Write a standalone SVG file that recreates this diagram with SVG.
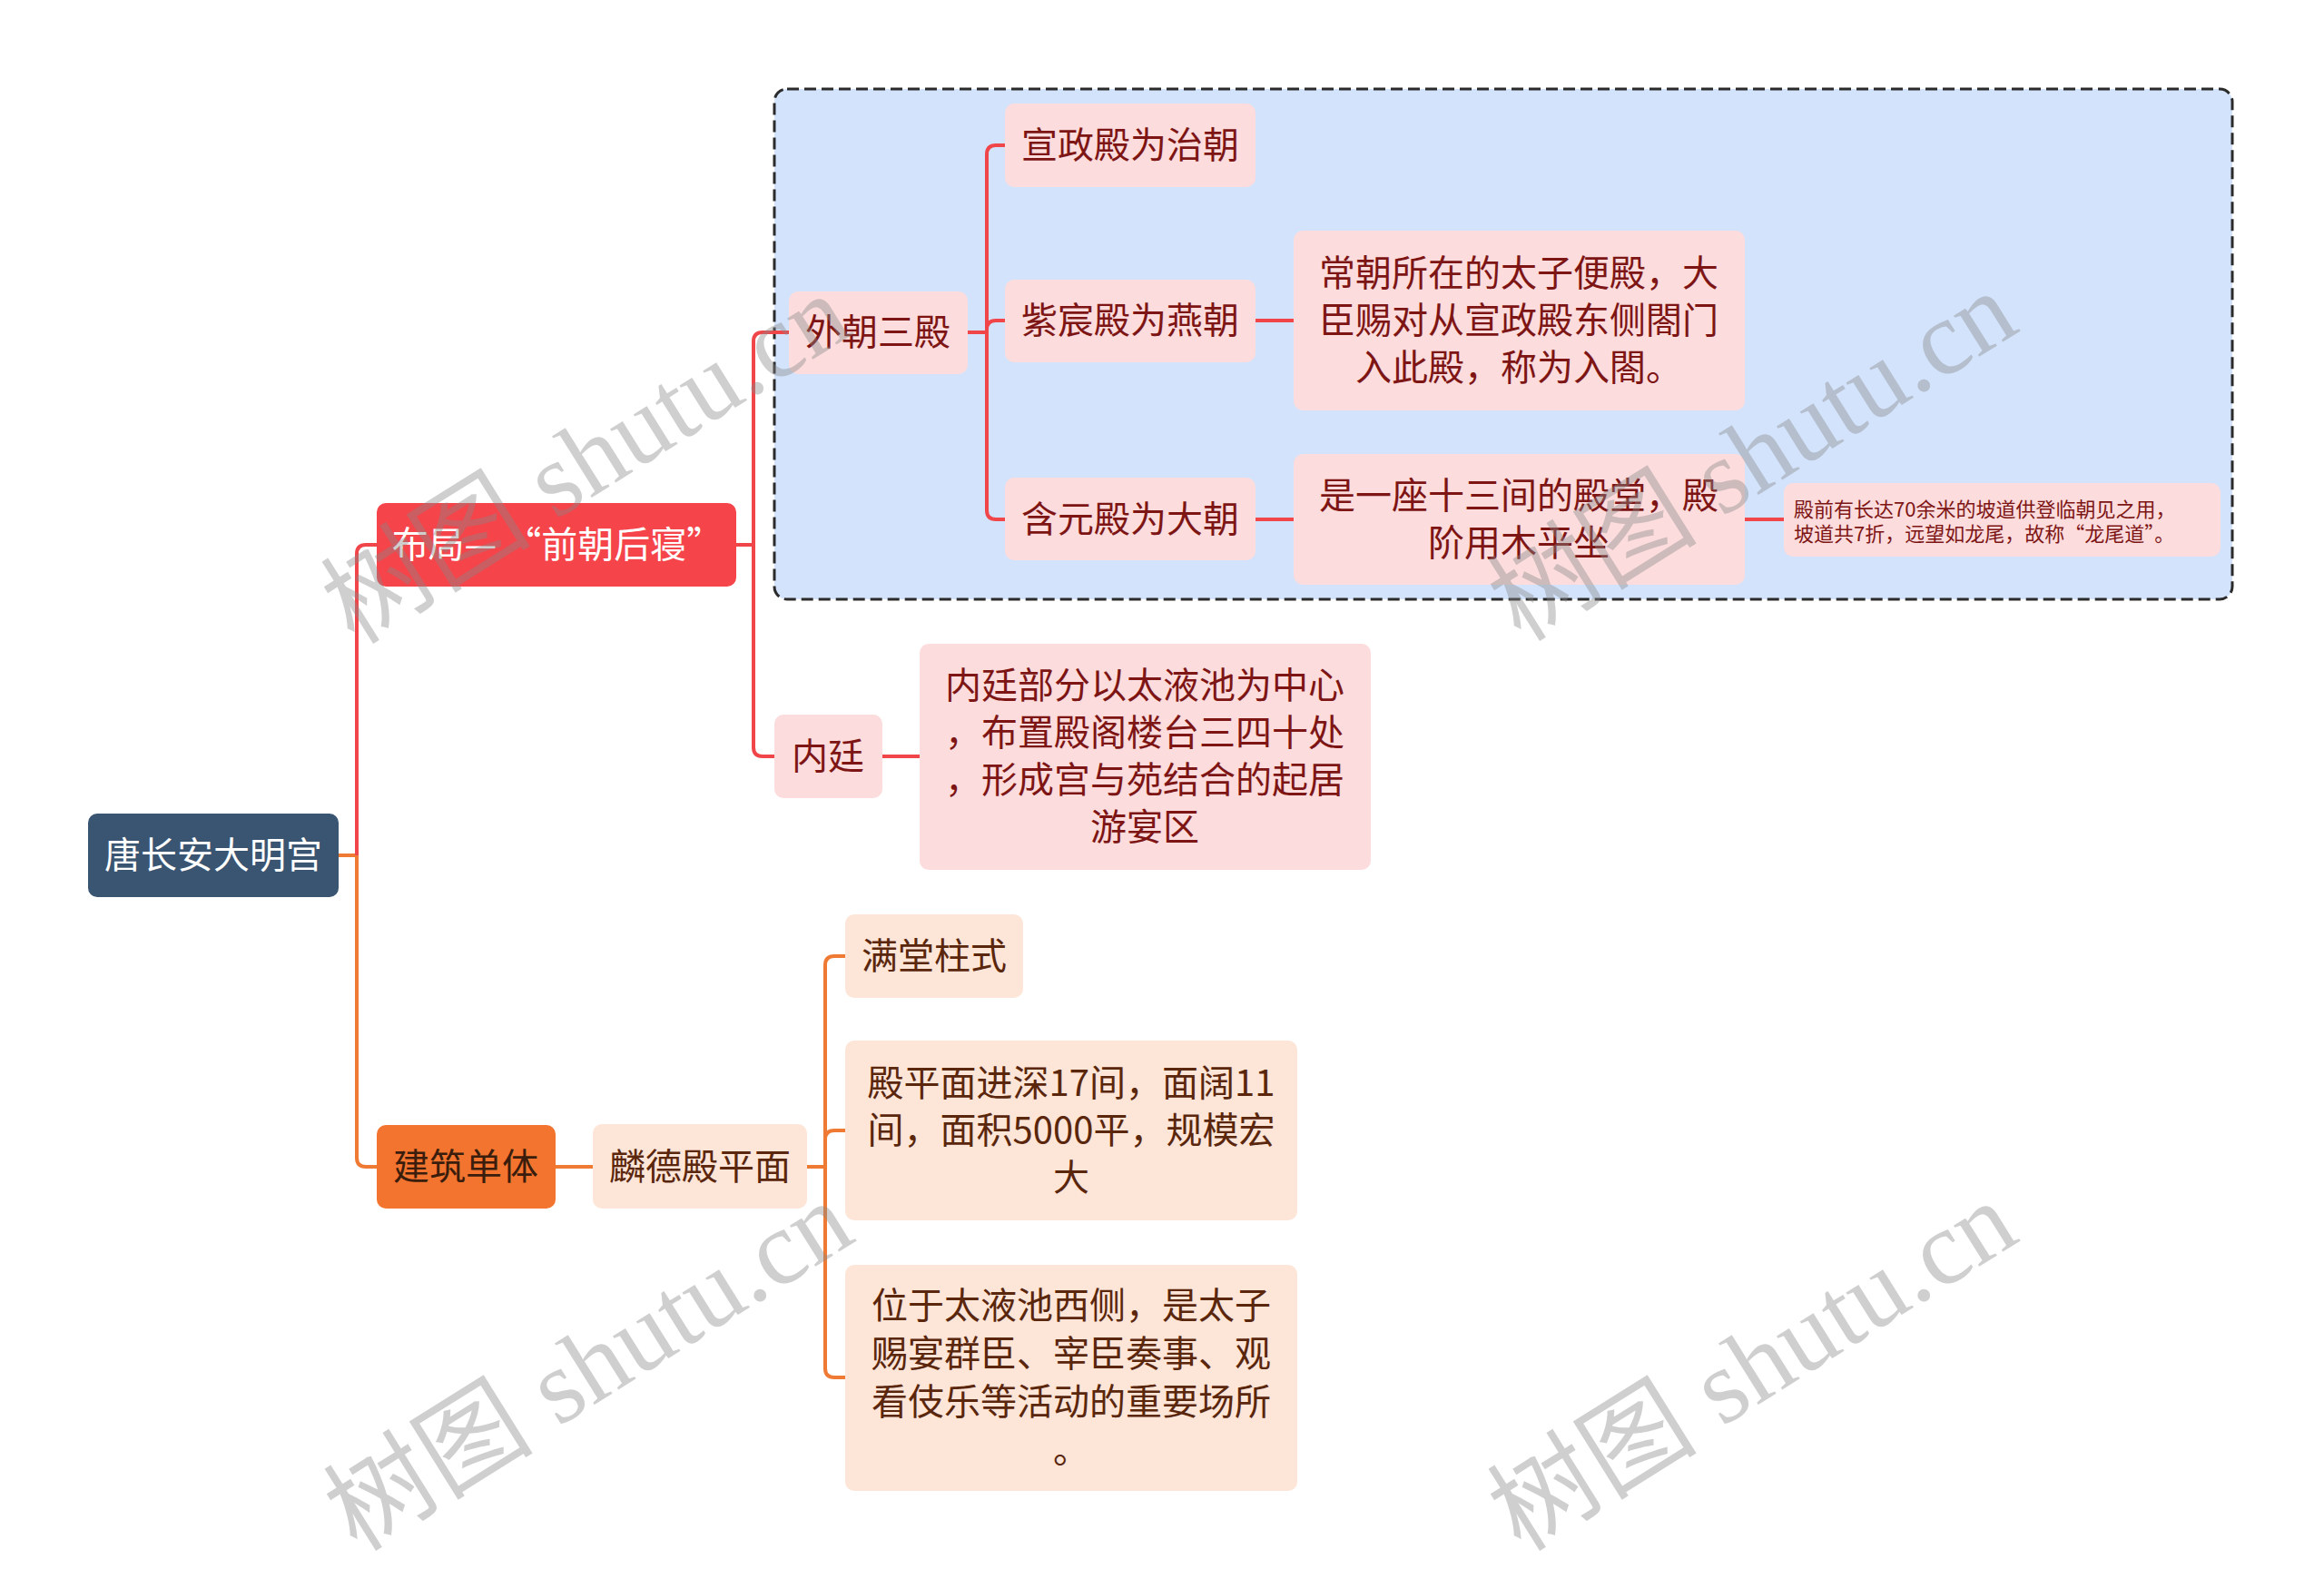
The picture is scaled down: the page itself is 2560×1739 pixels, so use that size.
<svg xmlns="http://www.w3.org/2000/svg" width="2560" height="1739" viewBox="0 0 2560 1739">
<style>
text{font-family:"Noto Sans CJK SC","Noto Sans",sans-serif;font-size:40px;text-anchor:middle}
.red{stroke:#f0464a;stroke-width:4;fill:none}
.org{stroke:#ef7a33;stroke-width:4;fill:none}
.pk{fill:#fcdcdc}
.pe{fill:#fde5d8}
.tr{fill:#7e1515}
.tb{fill:#5a260c}
.wm{font-family:"Liberation Serif","Noto Sans CJK SC",serif;font-size:116px;fill:#888;opacity:0.4}
</style>
<rect width="2560" height="1739" fill="#ffffff"/>
<rect id="boundary" x="853" y="98" width="1606" height="562" rx="14" fill="#d3e3fc" stroke="#2b2b2b" stroke-width="3" stroke-dasharray="13 6"/>
<g id="connectors">
<path class="org" d="M373 942 H393 V1275 Q393 1285 403 1285 H415"/>
<path class="red" d="M393 942 V610 Q393 600 403 600 H415"/>
<path class="red" d="M811 600 H830 V376 Q830 366 840 366 H869"/>
<path class="red" d="M811 600 H830 V823 Q830 833 840 833 H853"/>
<path class="red" d="M1066 366 H1087 V170 Q1087 160 1097 160 H1107"/>
<path class="red" d="M1066 366 H1087 V363 Q1087 353 1097 353 H1107"/>
<path class="red" d="M1066 366 H1087 V562 Q1087 572 1097 572 H1107"/>
<path class="red" d="M1383 353 H1425"/>
<path class="red" d="M1383 572 H1425"/>
<path class="red" d="M1922 572 H1965"/>
<path class="red" d="M972 833 H1013"/>
<path class="org" d="M612 1285 H653"/>
<path class="org" d="M889 1285 H909 V1063 Q909 1053 919 1053 H931"/>
<path class="org" d="M889 1285 H909 V1255 Q909 1245 919 1245 H931"/>
<path class="org" d="M889 1285 H909 V1507 Q909 1517 919 1517 H931"/>
</g>
<g id="root"><rect x="97" y="896" width="276" height="92" rx="10" fill="#3a5572"/><text x="235" y="956" fill="#ffffff">唐长安大明宫</text></g>
<g id="layout"><rect x="415" y="554" width="396" height="92" rx="10" fill="#f5444a"/><text x="614" y="614" fill="#ffffff">布局— “前朝后寝”</text></g>
<g id="building"><rect x="415" y="1239" width="197" height="92" rx="10" fill="#f2742f"/><text x="513" y="1299" fill="#3a1d0c">建筑单体</text></g>
<g id="waichao"><rect class="pk" x="869" y="321" width="197" height="91" rx="10"/><text class="tr" x="967" y="380">外朝三殿</text></g>
<g id="neiting"><rect class="pk" x="853" y="787" width="119" height="92" rx="10"/><text class="tr" x="912" y="847">内廷</text></g>
<g id="xuanzheng"><rect class="pk" x="1107" y="114" width="276" height="92" rx="10"/><text class="tr" x="1245" y="174">宣政殿为治朝</text></g>
<g id="zichen"><rect class="pk" x="1107" y="308" width="276" height="91" rx="10"/><text class="tr" x="1245" y="367">紫宸殿为燕朝</text></g>
<g id="hanyuan"><rect class="pk" x="1107" y="526" width="276" height="91" rx="10"/><text class="tr" x="1245" y="586">含元殿为大朝</text></g>
<g id="changchao"><rect class="pk" x="1425" y="254" width="497" height="198" rx="10"/>
<text class="tr" x="1673" y="315">常朝所在的太子便殿，大</text>
<text class="tr" x="1673" y="367">臣赐对从宣政殿东侧閤门</text>
<text class="tr" x="1673" y="419">入此殿，称为入閤。</text></g>
<g id="shiyizuo"><rect class="pk" x="1425" y="500" width="497" height="144" rx="10"/>
<text class="tr" x="1673" y="560">是一座十三间的殿堂，殿</text>
<text class="tr" x="1673" y="612">阶用木平坐</text></g>
<g id="note"><rect class="pk" x="1965" y="532" width="481" height="81" rx="10"/>
<text class="tr" x="1976" y="569" style="font-size:22px;text-anchor:start">殿前有长达70余米的坡道供登临朝见之用，</text>
<text class="tr" x="1976" y="596" style="font-size:22px;text-anchor:start">坡道共7折，远望如龙尾，故称“龙尾道”。</text></g>
<g id="neitingbufen"><rect class="pk" x="1013" y="709" width="497" height="249" rx="10"/>
<text class="tr" x="1261" y="769">内廷部分以太液池为中心</text>
<text class="tr" x="1261" y="821">，布置殿阁楼台三四十处</text>
<text class="tr" x="1261" y="873">，形成宫与苑结合的起居</text>
<text class="tr" x="1261" y="925">游宴区</text></g>
<g id="linde"><rect class="pe" x="653" y="1238" width="236" height="93" rx="10"/><text class="tb" x="771" y="1299">麟德殿平面</text></g>
<g id="mantang"><rect class="pe" x="931" y="1007" width="196" height="92" rx="10"/><text class="tb" x="1029" y="1067">满堂柱式</text></g>
<g id="dianpingmian"><rect class="pe" x="931" y="1146" width="498" height="198" rx="10"/>
<text class="tb" x="1180" y="1207">殿平面进深17间，面阔11</text>
<text class="tb" x="1180" y="1259">间，面积5000平，规模宏</text>
<text class="tb" x="1180" y="1311">大</text></g>
<g id="weiyu"><rect class="pe" x="931" y="1393" width="498" height="249" rx="10"/>
<text class="tb" x="1180" y="1452">位于太液池西侧，是太子</text>
<text class="tb" x="1180" y="1505">赐宴群臣、宰臣奏事、观</text>
<text class="tb" x="1180" y="1558">看伎乐等活动的重要场所</text>
<text class="tb" x="1180" y="1611">。</text></g>
<g id="watermark">
<text class="wm" transform="translate(645 505) rotate(-32)" y="40">树图 shutu.cn</text>
<text class="wm" transform="translate(1930 502) rotate(-32)" y="40">树图 shutu.cn</text>
<text class="wm" transform="translate(648 1504) rotate(-32)" y="40">树图 shutu.cn</text>
<text class="wm" transform="translate(1930 1504) rotate(-32)" y="40">树图 shutu.cn</text>
</g>
</svg>
